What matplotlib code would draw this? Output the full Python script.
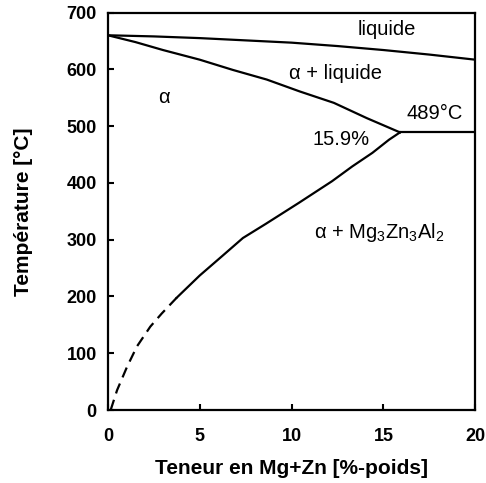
import matplotlib
matplotlib.use('Agg')
import matplotlib.pyplot as plt

plt.rcParams['font.family'] = ['Liberation Sans', 'DejaVu Sans']
plt.rcParams['mathtext.fontset'] = 'custom'
plt.rcParams['mathtext.rm'] = 'Liberation Sans'
plt.rcParams['mathtext.default'] = 'regular'

# Diagramme de phase Al - (Mg+Zn)
liq_x = [0, 2.5, 5, 7.5, 10, 12.5, 15, 17.5, 20]
liq_T = [660, 658, 655, 651, 647, 641, 634, 626, 617]

sol_x = [0, 1.5, 3.0, 5.0, 6.8, 8.65, 10.45, 12.3, 14.1, 15.9]
sol_T = [660, 648, 634, 617, 599, 582, 561, 541, 514, 489]

eut_x = [15.9, 20]
eut_T = [489, 489]

solv_x = [15.9, 15.3, 14.4, 13.3, 12.2, 10.4, 8.6, 7.35, 6.25, 5.0, 3.75]
solv_T = [489, 476, 453, 429, 403, 365, 328, 303, 272, 237, 198]

dash_x = [3.75, 2.93, 2.31, 1.58, 1.04, 0.5, 0.15]
dash_T = [198, 170, 147, 112, 76, 35, 0]

fig = plt.figure(figsize=(4.86, 4.83), dpi=100)
ax = fig.add_axes([0.222, 0.151, 0.756, 0.823])

lw = 1.6
ax.plot(liq_x, liq_T, color='black', lw=lw)
ax.plot(sol_x, sol_T, color='black', lw=lw)
ax.plot(eut_x, eut_T, color='black', lw=lw)
ax.plot(solv_x, solv_T, color='black', lw=lw)
ax.plot(dash_x, dash_T, color='black', lw=lw, dashes=(4.8, 3.0))

fs = 14.5
ax.text(15.2, 670, 'liquide', fontsize=fs, ha='center', va='center')
ax.text(12.4, 592, 'α + liquide', fontsize=fs, ha='center', va='center')
ax.text(3.05, 551, 'α', fontsize=fs, ha='center', va='center')
ax.text(17.8, 523, '489°C', fontsize=fs, ha='center', va='center')
ax.text(12.7, 477, '15.9%', fontsize=fs, ha='center', va='center')
ax.text(14.75, 313, 'α + Mg$_3$Zn$_3$Al$_2$', fontsize=fs, ha='center', va='center')

ax.set_xlim(0, 20)
ax.set_ylim(0, 700)
ax.set_xticks([0, 5, 10, 15, 20])
ax.set_yticks(range(0, 701, 100))
ax.tick_params(direction='in', length=4, width=1.5)
ax.tick_params(axis='x', pad=13)
ax.tick_params(axis='y', pad=8)
for lab in ax.get_xticklabels() + ax.get_yticklabels():
    lab.set_fontweight('bold')
    lab.set_fontsize(13)
for s in ax.spines.values():
    s.set_linewidth(1.6)

ax.set_xlabel('Teneur en Mg+Zn [%-poids]', fontsize=15, fontweight='bold', labelpad=10)
ax.set_ylabel('Température [°C]', fontsize=15, fontweight='bold', labelpad=24)

fig.savefig('out.png', dpi=100)
